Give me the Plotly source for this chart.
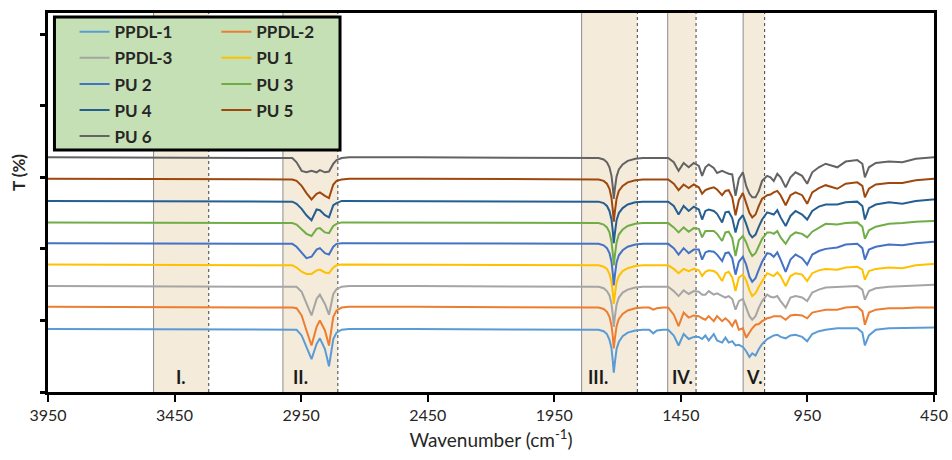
import plotly.graph_objects as go

# Wavenumber grid (cm-1), shared by all spectra
wavenumber = [3950, 3700, 3450, 3200, 3050, 3000, 2985,
              2968, 2948, 2929, 2909, 2889, 2876, 2856, 2840, 2823, 2810, 2790,
              2760, 2500, 2200, 1900, 1800,
              1775, 1755, 1742, 1732, 1724, 1719, 1715, 1711, 1704, 1695, 1680, 1660, 1630, 1600,
              1575, 1559, 1545, 1520, 1500,
              1478, 1459, 1439, 1419, 1399, 1379,
              1366, 1353, 1340, 1320, 1307, 1287, 1274, 1261, 1247, 1234, 1221, 1205,
              1192, 1179, 1168, 1155, 1142, 1129, 1109, 1096, 1083, 1069,
              1056, 1036, 1017, 997, 971, 951, 931, 905, 878, 832, 799, 753, 733, 723,
              707, 680, 628, 575, 522, 456, 450]

names = ["PPDL-1", "PPDL-2", "PPDL-3", "PU 1", "PU 2", "PU 3", "PU 4", "PU 5", "PU 6"]
colors = ["#5B9BD5", "#ED7D31", "#A5A5A5", "#FFC000", "#4472C4", "#70AD47",
          "#255E91", "#9E480E", "#636363"]
# vertical stacking offset of each spectrum (T units)
offsets = [88, 119, 148, 178, 208, 237, 267, 298, 328]

# band depth below each spectrum's baseline (T units)
ppdl_1 = [0, 0, 0, 0, 0, 0, 1,
          1, 9, 26, 42, 21, 13, 28, 52, 14, 5, 1,
          0, 0, 0, 0, 0,
          1, 3, 7, 15, 27, 44, 61, 48, 28, 18, 10, 5, 2, 1,
          1, 6, 2, 1, 1,
          9, 23, 7, 14, 11, 11,
          14, 9, 16, 7, 16, 19, 12, 19, 17, 23, 22, 25,
          31, 39, 34, 37, 28, 21, 14, 11, 9, 8,
          11, 13, 9, 8, 11, 17, 7, 3, 1, -1, -1, -1, 5, 23,
          9, 1, -1, -1, -2, -2, -2]
ppdl_2 = [0, 0, 0, 0, 0, 0, 1,
          2, 12, 33, 54, 28, 19, 33, 54, 14, 5, 1,
          0, 0, 0, 0, 0,
          1, 3, 7, 14, 26, 41, 58, 45, 27, 17, 10, 5, 2, 1,
          1, 4, 2, 1, 1,
          11, 27, 8, 15, 12, 13,
          16, 18, 13, 20, 13, 20, 16, 20, 27, 18, 32, 30,
          43, 36, 30, 25, 24, 20, 16, 15, 13, 13,
          13, 18, 12, 11, 12, 16, 8, 6, 4, 4, 1, 0, 6, 25,
          8, 4, 2, 2, 1, 1, 1]
ppdl_3 = [0, 0, 0, 0, 0, 0, 1,
          1, 8, 25, 41, 18, 12, 25, 40, 11, 4, 1,
          0, 0, 0, 0, 0,
          1, 3, 7, 13, 25, 40, 57, 44, 26, 16, 9, 5, 2, 1,
          1, 2, 1, 1, 1,
          7, 14, 6, 11, 7, 8,
          12, 12, 7, 12, 10, 14, 16, 14, 18, 33, 21, 18,
          30, 42, 47, 42, 30, 21, 12, 15, 16, 14,
          21, 30, 16, 14, 16, 21, 9, 5, 2, 1, 0, 0, 5, 19,
          7, 3, 1, 0, -1, -2, -2]
pu_1 = [0, 0, 0, 0, 0, 0, 1,
        4, 10, 13, 13, 8, 7, 11, 12, 4, 1, 0,
        0, 0, 0, 0, 0,
        1, 3, 6, 13, 24, 39, 55, 43, 25, 16, 9, 5, 2, 1,
        1, 2, 1, 1, 1,
        6, 12, 6, 9, 6, 8,
        16, 10, 8, 9, 12, 23, 12, 10, 18, 37, 18, 14,
        22, 36, 44, 40, 31, 23, 12, 14, 16, 11,
        16, 30, 16, 12, 14, 23, 12, 8, 6, 7, 4, 3, 7, 21,
        9, 6, 4, 5, 1, -1, -1]
pu_2 = [0, 0, 0, 0, 0, 0, 1,
        5, 14, 21, 19, 9, 7, 14, 16, 5, 1, 0,
        0, 0, 0, 0, 0,
        1, 3, 7, 14, 26, 42, 59, 46, 27, 17, 10, 5, 2, 1,
        1, 2, 1, 2, 1,
        7, 16, 7, 14, 9, 9,
        23, 13, 11, 12, 16, 25, 14, 13, 21, 44, 26, 19,
        30, 47, 54, 49, 37, 26, 14, 15, 19, 13,
        23, 40, 23, 16, 21, 30, 16, 11, 8, 6, 2, 1, 7, 23,
        9, 5, 2, 3, 0, -2, -2]
pu_3 = [0, 0, 0, 0, 0, 0, 1,
        3, 9, 16, 19, 9, 8, 14, 15, 5, 2, 0,
        0, 0, 0, 0, 0,
        1, 3, 7, 14, 27, 43, 60, 47, 28, 17, 10, 5, 2, 1,
        1, 2, 1, 1, 1,
        7, 14, 7, 13, 8, 9,
        21, 12, 12, 12, 16, 26, 14, 13, 22, 47, 25, 19,
        28, 40, 47, 43, 33, 23, 14, 14, 16, 12,
        21, 30, 19, 14, 16, 21, 13, 7, 2, 3, 1, 0, 6, 23,
        11, 6, 2, 1, -1, -2, -2]
pu_4 = [0, 0, 0, 0, 0, 0, 1,
        4, 11, 20, 27, 12, 13, 20, 23, 6, 3, 0,
        0, 0, 0, 0, 0,
        1, 3, 7, 14, 26, 42, 59, 46, 27, 17, 10, 5, 2, 1,
        1, 2, 1, 2, 1,
        7, 19, 7, 14, 8, 12,
        26, 14, 12, 14, 18, 30, 16, 15, 24, 44, 27, 20,
        32, 46, 51, 47, 36, 26, 16, 17, 19, 13,
        23, 35, 21, 14, 19, 26, 14, 8, 5, 5, 2, 1, 7, 26,
        10, 5, 2, 4, 0, -2, -2]
pu_5 = [0, 0, 0, 0, 0, 0, 1,
        3, 10, 20, 29, 21, 19, 24, 27, 8, 3, 1,
        0, 0, 0, 0, 0,
        1, 3, 7, 14, 27, 43, 60, 47, 28, 17, 10, 5, 2, 1,
        1, 2, 1, 1, 1,
        7, 16, 8, 13, 8, 12,
        21, 16, 14, 12, 15, 23, 17, 16, 26, 51, 30, 20,
        34, 48, 54, 50, 38, 28, 23, 22, 19, 17,
        23, 37, 23, 19, 23, 35, 19, 13, 9, 14, 7, 5, 10, 26,
        14, 8, 6, 6, 2, 0, 0]
pu_6 = [0, 0, 0, 0, 0, 0, 1,
        7, 19, 21, 19, 21, 18, 21, 20, 9, 4, 1,
        0, 0, 0, 0, 0,
        1, 3, 7, 14, 26, 41, 58, 45, 27, 17, 10, 5, 2, 1,
        1, 2, 1, 1, 1,
        7, 19, 8, 14, 8, 12,
        26, 14, 10, 15, 22, 19, 21, 23, 24, 54, 30, 21,
        40, 51, 56, 56, 47, 33, 26, 28, 33, 23,
        28, 42, 28, 21, 26, 37, 21, 14, 9, 14, 6, 4, 9, 28,
        14, 8, 6, 7, 2, 0, 0]
depths = [ppdl_1, ppdl_2, ppdl_3, pu_1, pu_2, pu_3, pu_4, pu_5, pu_6]

# highlighted bands (cm-1): label, high edge, low edge, label position
band_labels = ["I.", "II.", "III.", "IV.", "V."]
band_high = [3533, 3022, 1842, 1502, 1204]
band_low = [3315, 2805, 1622, 1390, 1119]
band_label_x = [3426, 2951, 1776, 1444, 1159]

x_ticks = [3950, 3450, 2950, 2450, 1950, 1450, 950, 450]
y_ticks = [0, 100, 200, 300, 400, 500]

FONT = "Lato"
fig = go.Figure()

legend_of = ["legend", "legend2", "legend", "legend2", "legend", "legend2",
             "legend", "legend2", "legend"]
for name, col, off, dep, lg in zip(names, colors, offsets, depths, legend_of):
    fig.add_trace(go.Scatter(
        x=wavenumber, y=[off - d for d in dep], mode="lines", name=name,
        line=dict(color=col, width=2), legend=lg, legendgroup=name))

shapes = []
for hi, lo in zip(band_high, band_low):
    shapes.append(dict(type="rect", xref="x", yref="paper", x0=hi, x1=lo, y0=0, y1=1,
                       fillcolor="#F4EBDA", line=dict(width=0), layer="below"))
    shapes.append(dict(type="line", xref="x", yref="paper", x0=hi, x1=hi, y0=0, y1=1,
                       line=dict(color="#8C8C8C", width=1), layer="below"))
    shapes.append(dict(type="line", xref="x", yref="paper", x0=lo, x1=lo, y0=0, y1=1,
                       line=dict(color="#404040", width=1, dash="dot"), layer="below"))
# legend panel
shapes.append(dict(type="rect", xref="paper", yref="paper", x0=0.0073, x1=0.3296,
                   y0=0.6385, y1=0.9894, fillcolor="#C5E0B4",
                   line=dict(color="black", width=3), layer="above"))

annotations = []
for lab, lx in zip(band_labels, band_label_x):
    annotations.append(dict(x=lx, y=0.04, xref="x", yref="paper", text="<b>%s</b>" % lab,
                            showarrow=False, font=dict(family=FONT, size=18, color="#1a1a1a"),
                            xanchor="center", yanchor="middle"))
annotations.append(dict(x=-0.034, y=0.58, xref="paper", yref="paper", text="<b>T (%)</b>",
                        showarrow=False, textangle=-90,
                        font=dict(family=FONT, size=17, color="#262626"),
                        xanchor="center", yanchor="middle"))

leg_common = dict(bgcolor="rgba(0,0,0,0)", borderwidth=0, xanchor="left", yanchor="top",
                  font=dict(family=FONT, size=17, color="#262626", weight="bold"),
                  tracegroupgap=1, traceorder="grouped", orientation="v")

fig.update_layout(
    width=952, height=460,
    margin=dict(l=48, r=18, t=13, b=68),
    plot_bgcolor="white", paper_bgcolor="white",
    font=dict(family=FONT, color="#262626"),
    showlegend=True,
    legend=dict(x=0.03, y=0.997, **leg_common),
    legend2=dict(x=0.19, y=0.997, **leg_common),
    shapes=shapes, annotations=annotations,
    xaxis=dict(range=[3950, 450], tickvals=x_ticks, ticktext=[str(v) for v in x_ticks],
               automargin=False,
               showgrid=False, zeroline=False, showline=True, linecolor="black",
               linewidth=3, mirror=True, ticks="outside", ticklen=7, tickwidth=2,
               tickcolor="black", tickfont=dict(family=FONT, size=16, color="#262626"),
               title=dict(text="Wavenumber (cm<sup>-1</sup>)", standoff=11,
                          font=dict(family=FONT, size=19, color="#262626"))),
    yaxis=dict(range=[0, 529.6], tickvals=y_ticks, showticklabels=False,
               automargin=False,
               showgrid=False, zeroline=False, showline=True, linecolor="black",
               linewidth=3, mirror=True, ticks="outside", ticklen=5, tickwidth=3,
               tickcolor="black"),
)

fig.write_html("out.html")
